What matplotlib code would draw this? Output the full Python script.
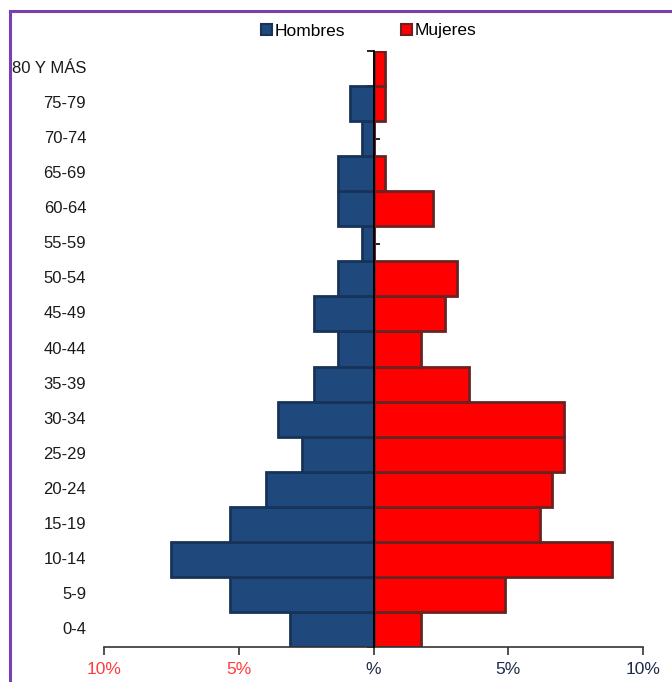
import matplotlib
matplotlib.use("Agg")
import matplotlib.pyplot as plt
from matplotlib.patches import Patch
from matplotlib.lines import Line2D
from matplotlib.transforms import blended_transform_factory

plt.rcParams['font.family'] = ['Liberation Sans Narrow', 'Liberation Sans', 'DejaVu Sans']

# Age groups, youngest first (drawn bottom to top)
grupos = ["0-4", "5-9", "10-14", "15-19", "20-24", "25-29", "30-34", "35-39",
          "40-44", "45-49", "50-54", "55-59", "60-64", "65-69", "70-74",
          "75-79", "80 Y MÁS"]

# Share of total population (%) per age group
hombres = [3.10, 5.31, 7.52, 5.31, 3.98, 2.65, 3.54, 2.21,
           1.33, 2.21, 1.33, 0.44, 1.33, 1.33, 0.44, 0.88, 0.00]
mujeres = [1.77, 4.87, 8.85, 6.19, 6.64, 7.08, 7.08, 3.54,
           1.77, 2.65, 3.10, 0.00, 2.21, 0.44, 0.00, 0.44, 0.44]

xticks = [-10, -5, 0, 5, 10]
xtick_labels = ["10%", "5%", "%", "5%", "10%"]
xtick_colors = ["#ff3b3b", "#ff3b3b", "#1c2a48", "#1c2a48", "#1c2a48"]

AZUL, AZUL_BORDE = "#1f497d", "#17335a"
ROJO, ROJO_BORDE = "#ff0000", "#6b2222"
FS = 12

W, H = 672, 682
fig = plt.figure(figsize=(W / 100, H / 100), dpi=100)
ax = fig.add_axes([104 / W, 1 - 647 / H, (643 - 104) / W, (647 - 51) / H])

pos = list(range(len(grupos)))
ax.barh(pos, [-v for v in hombres], height=1.0, color=AZUL,
        edgecolor=AZUL_BORDE, linewidth=2.0, zorder=2)
ax.barh(pos, mujeres, height=1.0, color=ROJO,
        edgecolor=ROJO_BORDE, linewidth=2.0, zorder=2)

ax.set_xlim(-10, 10)
ax.set_ylim(-0.5, len(grupos) - 0.5)

for s in ("top", "right"):
    ax.spines[s].set_visible(False)
ax.spines["left"].set_position(("data", 0))
ax.spines["left"].set_color("black")
ax.spines["left"].set_linewidth(1.3)
ax.spines["left"].set_zorder(3)
ax.spines["bottom"].set_color("#333333")
ax.spines["bottom"].set_linewidth(1.2)

# central axis: short ticks at group centres (right) and boundaries (left)
ax.set_yticks(pos)
ax.set_yticks([p - 0.5 for p in pos] + [len(grupos) - 0.5], minor=True)
ax.tick_params(axis="y", which="major", direction="in", length=4,
               width=1.2, color="black", labelleft=False)
ax.tick_params(axis="y", which="minor", direction="out", length=5,
               width=1.2, color="black")

trans = blended_transform_factory(ax.transAxes, ax.transData)
for p, g in zip(pos, grupos):
    ax.text(-0.033, p, g, transform=trans, ha="right", va="center",
            fontsize=FS, color="#1a1a1a")

ax.set_xticks(xticks)
ax.set_xticklabels(xtick_labels, fontsize=FS + 0.5)
for lbl, c in zip(ax.get_xticklabels(), xtick_colors):
    lbl.set_color(c)
ax.tick_params(axis="x", direction="out", length=6, width=1.2,
               color="#333333", pad=5)

handles = [Patch(facecolor=AZUL, edgecolor=AZUL_BORDE, linewidth=1.5, label="Hombres"),
           Patch(facecolor=ROJO, edgecolor=ROJO_BORDE, linewidth=1.5, label="Mujeres")]
fig.legend(handles=handles, loc="center", bbox_to_anchor=(0.549, 1 - 31 / H),
           ncol=2, frameon=False, fontsize=FS + 0.5, handlelength=0.65,
           handleheight=0.65, handletextpad=0.15, columnspacing=3.2)

# purple frame (top and left edges)
fig.add_artist(Line2D([9.5 / W, 1], [1 - 10.5 / H, 1 - 10.5 / H],
                      transform=fig.transFigure, color="#7a3fb0", linewidth=2.2))
fig.add_artist(Line2D([9.5 / W, 9.5 / W], [1 - 10.5 / H, 0],
                      transform=fig.transFigure, color="#7a3fb0", linewidth=2.2))

fig.savefig("out.png", dpi=100, facecolor="white")
